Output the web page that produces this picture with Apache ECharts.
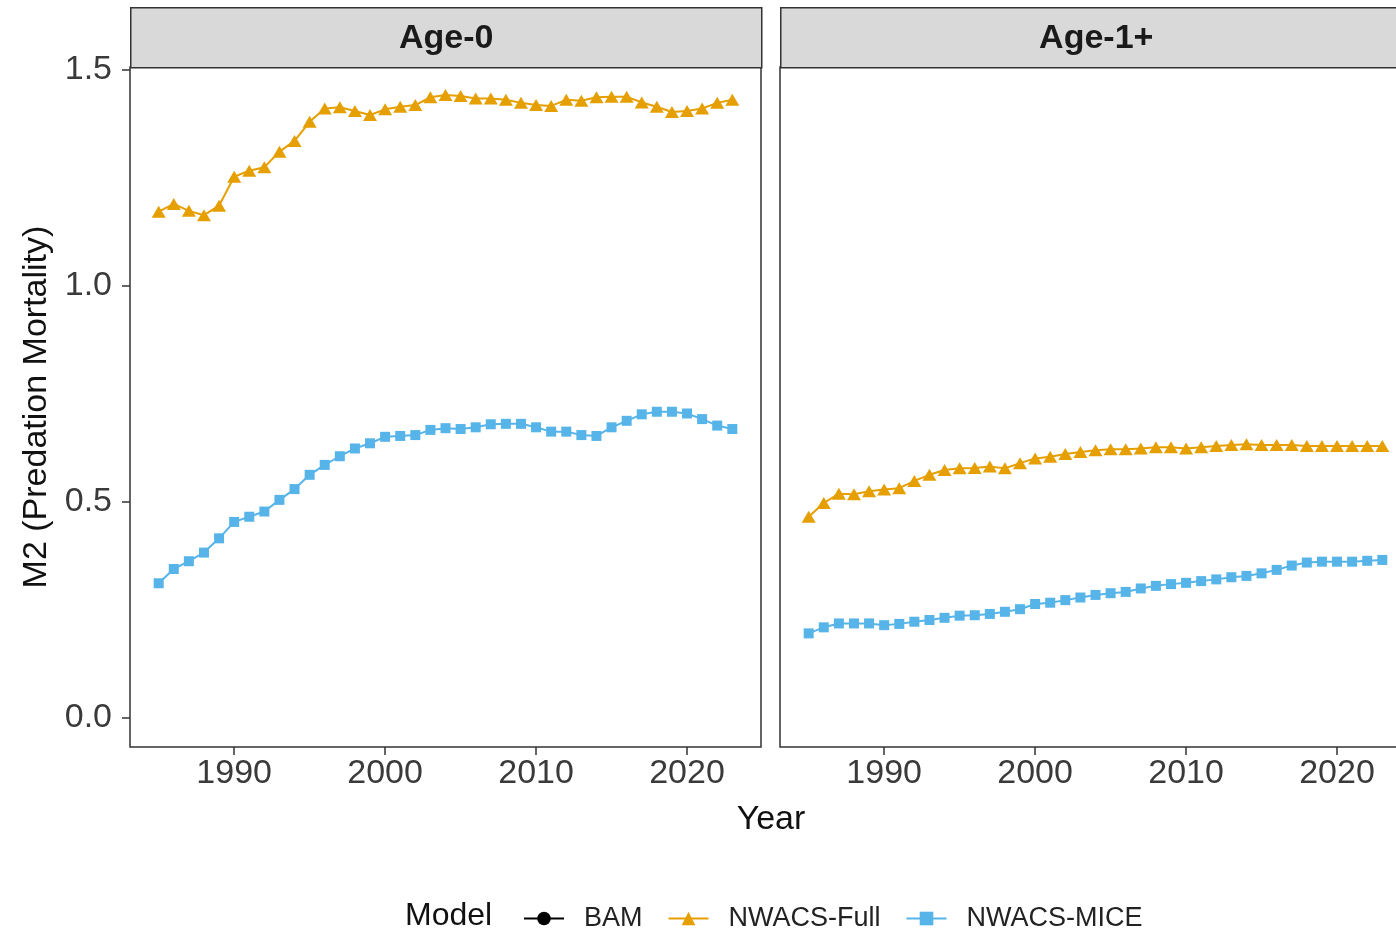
<!DOCTYPE html>
<html><head><meta charset="utf-8">
<script src="https://cdn.jsdelivr.net/npm/echarts@6/dist/echarts.min.js"></script>
<style>html,body{margin:0;padding:0;overflow:hidden;background:#fff}#c{width:1412px;height:932px}</style>
</head><body><div id="c"></div>
<script>
const years = [1985,1986,1987,1988,1989,1990,1991,1992,1993,1994,1995,1996,1997,1998,1999,2000,2001,2002,2003,2004,2005,2006,2007,2008,2009,2010,2011,2012,2013,2014,2015,2016,2017,2018,2019,2020,2021,2022,2023];
const panels = ['Age-0', 'Age-1+'];
const models = ['BAM', 'NWACS-Full', 'NWACS-MICE'];
const fullAge0 = [1.172,1.190,1.174,1.164,1.186,1.253,1.267,1.275,1.311,1.336,1.380,1.411,1.414,1.405,1.396,1.409,1.415,1.419,1.437,1.442,1.440,1.434,1.434,1.431,1.424,1.419,1.417,1.431,1.429,1.437,1.438,1.438,1.425,1.415,1.403,1.405,1.411,1.424,1.431];
const miceAge0 = [0.312,0.345,0.363,0.383,0.416,0.454,0.466,0.478,0.505,0.530,0.563,0.586,0.606,0.624,0.636,0.651,0.653,0.655,0.667,0.671,0.669,0.673,0.680,0.681,0.681,0.673,0.663,0.663,0.655,0.653,0.673,0.688,0.703,0.709,0.709,0.705,0.692,0.677,0.669];
const fullAge1 = [0.466,0.498,0.519,0.518,0.525,0.529,0.532,0.549,0.563,0.574,0.578,0.579,0.582,0.578,0.590,0.601,0.605,0.611,0.616,0.620,0.622,0.622,0.624,0.627,0.627,0.624,0.627,0.630,0.632,0.634,0.632,0.632,0.632,0.630,0.630,0.630,0.630,0.630,0.630];
const miceAge1 = [0.196,0.210,0.219,0.219,0.219,0.215,0.218,0.223,0.227,0.232,0.237,0.238,0.241,0.246,0.252,0.264,0.267,0.273,0.279,0.285,0.289,0.292,0.300,0.306,0.310,0.313,0.317,0.321,0.326,0.329,0.335,0.343,0.353,0.360,0.362,0.362,0.362,0.364,0.366];
const xTicks = [1990, 2000, 2010, 2020];
const yTicks = [0, 0.5, 1.0, 1.5];

const FONT = 'Liberation Sans';
const ORANGE = '#E69F00', BLUE = '#56B4E9';
const pair = arr => years.map((y, i) => [y, arr[i]]);

const grids = [
  {left: 130, top: 67, width: 631, height: 680},
  {left: 780, top: 67, width: 631, height: 680}
].map(g => Object.assign(g, {show: true, borderColor: '#333', borderWidth: 1.5, backgroundColor: '#fff'}));

const xAxes = [0, 1].map(i => ({
  type: 'value', gridIndex: i, min: 1983.1, max: 2024.9, position: 'bottom',
  splitLine: {show: false}, axisLine: {show: false, onZero: false},
  axisTick: {show: true, length: 8, customValues: xTicks, lineStyle: {color: '#333', width: 1.5}},
  axisLabel: {customValues: xTicks, margin: 10, fontSize: 34, fontFamily: FONT, color: '#3a3a3a',
    formatter: v => String(v)}
}));
const yAxes = [0, 1].map(i => ({
  type: 'value', gridIndex: i, min: -0.067, max: 1.507, position: 'left',
  splitLine: {show: false}, axisLine: {show: false, onZero: false},
  axisTick: {show: i === 0, length: 8, customValues: yTicks, lineStyle: {color: '#333', width: 1.5}},
  axisLabel: {show: i === 0, customValues: yTicks, margin: 18, fontSize: 34, fontFamily: FONT, color: '#3a3a3a',
    formatter: v => Number(v).toFixed(1)},
  name: i === 0 ? 'M2 (Predation Mortality)' : '', nameLocation: 'middle', nameGap: 76,
  nameTextStyle: {fontSize: 34, fontFamily: FONT, color: '#111'}
}));

const lineSeries = (name, data, idx, color, symbol, size) => ({
  name, type: 'line', xAxisIndex: idx, yAxisIndex: idx, data,
  symbol, symbolSize: size, showSymbol: true, animation: false,
  lineStyle: {color, width: 2}, itemStyle: {color}
});

const series = [
  lineSeries('BAM', [], 0, '#000', 'circle', 9),
  lineSeries('NWACS-Full', pair(fullAge0), 0, ORANGE, 'triangle', [14, 12]),
  lineSeries('NWACS-MICE', pair(miceAge0), 0, BLUE, 'rect', 10),
  lineSeries('NWACS-Full', pair(fullAge1), 1, ORANGE, 'triangle', [14, 12]),
  lineSeries('NWACS-MICE', pair(miceAge1), 1, BLUE, 'rect', 10)
];

const strip = (left, width, label) => ({
  type: 'group', left: left, top: 7,
  children: [
    {type: 'rect', shape: {x: 0, y: 0, width: width, height: 60}, style: {fill: '#D9D9D9', stroke: '#333', lineWidth: 1.5}},
    {type: 'text', x: width / 2, y: 31, style: {text: label, fontSize: 34, fontWeight: 'bold', fontFamily: FONT, fill: '#1a1a1a', align: 'center', verticalAlign: 'middle'}}
  ]
});

const chart = echarts.init(document.getElementById('c'), null, {renderer: 'canvas'});
chart.setOption({
  animation: false,
  backgroundColor: '#fff',
  grid: grids, xAxis: xAxes, yAxis: yAxes, series,
  legend: {
    data: models, left: 518, top: 900, itemWidth: 40, itemHeight: 17, itemGap: 25,
    textStyle: {fontSize: 27, fontFamily: FONT, color: '#222', padding: [0, 0, 0, 15]}
  },
  graphic: [
    strip(130, 631, panels[0]),
    strip(780, 631, panels[1]),
    {type: 'text', x: 771, y: 820, style: {text: 'Year', fontSize: 34, fontFamily: FONT, fill: '#111', align: 'center', verticalAlign: 'middle'}},
    {type: 'text', x: 405, y: 916, style: {text: 'Model', fontSize: 32, fontFamily: FONT, fill: '#111', align: 'left', verticalAlign: 'middle'}}
  ]
});
</script></body></html>
